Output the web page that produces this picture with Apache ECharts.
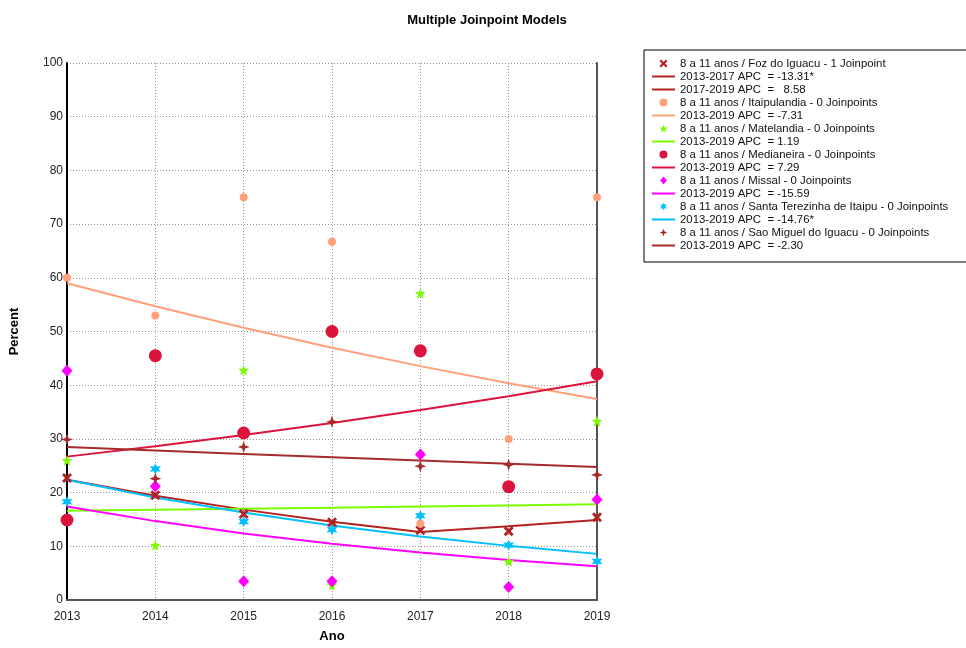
<!DOCTYPE html>
<html>
<head>
<meta charset="utf-8">
<script src="https://cdn.jsdelivr.net/npm/echarts@6/dist/echarts.min.js"></script>
<style>
  html, body { margin: 0; padding: 0; background: #fff; }
  #chart { width: 966px; height: 648px; }
</style>
</head>
<body>
<div id="chart"></div>
<script>
// Years on the horizontal axis
const years = [2013, 2014, 2015, 2016, 2017, 2018, 2019];

// Observed percentages per municipality (8 a 11 anos)
const fozObs       = [22.7, 19.5, 16.0, 14.5, 13.0, 12.8, 15.4];
const itaipuObs    = [60.0, 53.0, 75.0, 66.7, 14.2, 30.0, 75.0];
const matelObs     = [26.0, 10.2, 42.8, 2.8, 57.1, 7.2, 33.3];
const medianObs    = [14.9, 45.5, 31.1, 50.0, 46.4, 21.1, 42.1];
const missalObs    = [42.7, 21.2, 3.5, 3.5, 27.1, 2.4, 18.7];
const santaObs     = [18.3, 24.4, 14.6, 13.1, 15.7, 10.2, 7.2];
const saoMiguelObs = [29.9, 22.6, 28.5, 33.2, 24.9, 25.2, 23.3];

// Modelled trends (Foz do Iguacu has one joinpoint in 2017)
const fozYearsA = [2013, 2014, 2015, 2016, 2017];
const fozFitA   = [22.4, 19.42, 16.83, 14.59, 12.65];
const fozYearsB = [2017, 2018, 2019];
const fozFitB   = [12.65, 13.74, 14.92];
const itaipuFit    = [59.0, 54.69, 50.69, 46.98, 43.55, 40.36, 37.41];
const matelFit     = [16.6, 16.80, 17.00, 17.20, 17.40, 17.61, 17.82];
const medianFit    = [26.7, 28.65, 30.73, 32.97, 35.38, 37.96, 40.73];
const missalFit    = [17.4, 14.69, 12.40, 10.46, 8.83, 7.46, 6.29];
const santaFit     = [22.4, 19.09, 16.28, 13.87, 11.83, 10.08, 8.59];
const saoMiguelFit = [28.5, 27.84, 27.20, 26.58, 25.97, 25.37, 24.79];

// Legend labels
const labels = {
  foz: '8 a 11 anos / Foz do Iguacu - 1 Joinpoint',
  fozA: '2013-2017 APC  = -13.31*',
  fozB: '2017-2019 APC  =   8.58',
  itaipu: '8 a 11 anos / Itaipulandia - 0 Joinpoints',
  itaipuFit: '2013-2019 APC  = -7.31',
  matel: '8 a 11 anos / Matelandia - 0 Joinpoints',
  matelFit: '2013-2019 APC  = 1.19',
  median: '8 a 11 anos / Medianeira - 0 Joinpoints',
  medianFit: '2013-2019 APC  = 7.29',
  missal: '8 a 11 anos / Missal - 0 Joinpoints',
  missalFit: '2013-2019 APC  = -15.59',
  santa: '8 a 11 anos / Santa Terezinha de Itaipu - 0 Joinpoints',
  santaFit: '2013-2019 APC  = -14.76*',
  sao: '8 a 11 anos / Sao Miguel do Iguacu - 0 Joinpoints',
  saoFit: '2013-2019 APC  = -2.30'
};

const pair = (xs, ys) => xs.map((x, i) => [x, ys[i]]);

// Marker shapes
const crossPath = 'path://M2,0 L5,3 L8,0 L10,2 L7,5 L10,8 L8,10 L5,7 L2,10 L0,8 L3,5 L0,2 Z';
const star5Path = 'path://M10,0 L12.35,6.76 L19.51,6.91 L13.8,11.24 L15.88,18.09 L10,14 L4.12,18.09 L6.2,11.24 L0.49,6.91 L7.65,6.76 Z';
const star6Path = 'path://M10,0 L12.5,5.67 L18.66,5 L15,10 L18.66,15 L12.5,14.33 L10,20 L7.5,14.33 L1.34,15 L5,10 L1.34,5 L7.5,5.67 Z';
const star4Path = 'path://M10,0 L12.6,7.4 L20,10 L12.6,12.6 L10,20 L7.4,12.6 L0,10 L7.4,7.4 Z';
const diamondPath = 'path://M5,0 L10,6 L5,12 L0,6 Z';
// Thin bar used as the legend key of the trend lines
const lineKey = 'path://M0,0 L23,0 L23,2 L0,2 Z';

function scatter(name, values, symbol, size, color) {
  return {
    name: name, type: 'scatter', data: pair(years, values),
    symbol: symbol, symbolSize: size, itemStyle: { color: color, opacity: 1 },
    z: 3
  };
}
function trend(name, xs, values, color) {
  return {
    name: name, type: 'line', data: pair(xs, values),
    symbol: 'none', showSymbol: false, smooth: false,
    lineStyle: { color: color, width: 2 }, itemStyle: { color: color },
    z: 2
  };
}

const cFoz = '#B22222', cItaipu = '#FFA07A', cMatel = '#7CFC00', cMedian = '#DC143C',
      cMissal = '#FF00FF', cSanta = '#00BFFF', cSao = '#A52A2A';

const series = [
  scatter(labels.foz, fozObs, crossPath, 10, cFoz),
  trend(labels.fozA, fozYearsA, fozFitA, cFoz),
  trend(labels.fozB, fozYearsB, fozFitB, cFoz),
  scatter(labels.itaipu, itaipuObs, 'circle', 8, cItaipu),
  trend(labels.itaipuFit, years, itaipuFit, cItaipu),
  scatter(labels.matel, matelObs, star5Path, 11, cMatel),
  trend(labels.matelFit, years, matelFit, cMatel),
  scatter(labels.median, medianObs, 'circle', 13, cMedian),
  trend(labels.medianFit, years, medianFit, cMedian),
  scatter(labels.missal, missalObs, diamondPath, [11, 12], cMissal),
  trend(labels.missalFit, years, missalFit, cMissal),
  scatter(labels.santa, santaObs, star6Path, 11, cSanta),
  trend(labels.santaFit, years, santaFit, cSanta),
  scatter(labels.sao, saoMiguelObs, star4Path, 12, cSao),
  trend(labels.saoFit, years, saoMiguelFit, cSao)
];

const legendData = series.map(s => s.type === 'line'
  ? { name: s.name, icon: lineKey, itemStyle: { color: s.lineStyle.color } }
  : { name: s.name });

const chart = echarts.init(document.getElementById('chart'), null, { renderer: 'canvas' });
chart.setOption({
  animation: false,
  backgroundColor: '#fff',
  title: {
    text: 'Multiple Joinpoint Models',
    left: 487, top: 14, textAlign: 'center', padding: 0,
    textStyle: { fontFamily: 'Liberation Sans', fontSize: 13, fontWeight: 'bold', color: '#000' }
  },
  legend: {
    orient: 'vertical',
    left: 644, top: 50,
    padding: [7, 300, 10, 8],
    borderColor: '#000', borderWidth: 1,
    itemWidth: 23, itemHeight: 8, itemGap: 0,
    selectedMode: false,
    textStyle: { fontFamily: 'Liberation Sans', fontSize: 11.4, color: '#111', lineHeight: 13 },
    data: legendData
  },
  grid: { left: 66, right: 369, top: 63, bottom: 45, containLabel: false },
  xAxis: {
    type: 'value', min: 2013, max: 2019, interval: 1,
    name: 'Ano', nameLocation: 'middle', nameGap: 30,
    nameTextStyle: { fontFamily: 'Liberation Sans', fontSize: 13, fontWeight: 'bold', color: '#000' },
    axisLine: { show: true, onZero: false, lineStyle: { color: '#555', width: 2 } },
    axisTick: { show: false },
    axisLabel: { formatter: v => String(v), margin: 11, fontFamily: 'Liberation Sans', fontSize: 12, color: '#222' },
    splitLine: { show: true, lineStyle: { color: '#999', type: [1, 2], width: 1 } }
  },
  yAxis: [{
    type: 'value', min: 0, max: 100, interval: 10,
    name: 'Percent', nameLocation: 'middle', nameGap: 46, nameRotate: 90,
    nameTextStyle: { fontFamily: 'Liberation Sans', fontSize: 13, fontWeight: 'bold', color: '#000' },
    axisLine: { show: true, onZero: false, lineStyle: { color: '#000', width: 2 } },
    axisTick: { show: false },
    axisLabel: { margin: 4, fontFamily: 'Liberation Sans', fontSize: 12, color: '#222' },
    splitLine: { show: true, lineStyle: { color: '#999', type: [1, 2], width: 1 } }
  }, {
    type: 'value', min: 0, max: 100, interval: 10, position: 'right',
    axisLine: { show: true, lineStyle: { color: '#555', width: 2 } },
    axisTick: { show: false }, axisLabel: { show: false }, splitLine: { show: false }
  }],
  series: series
});
</script>
</body>
</html>
